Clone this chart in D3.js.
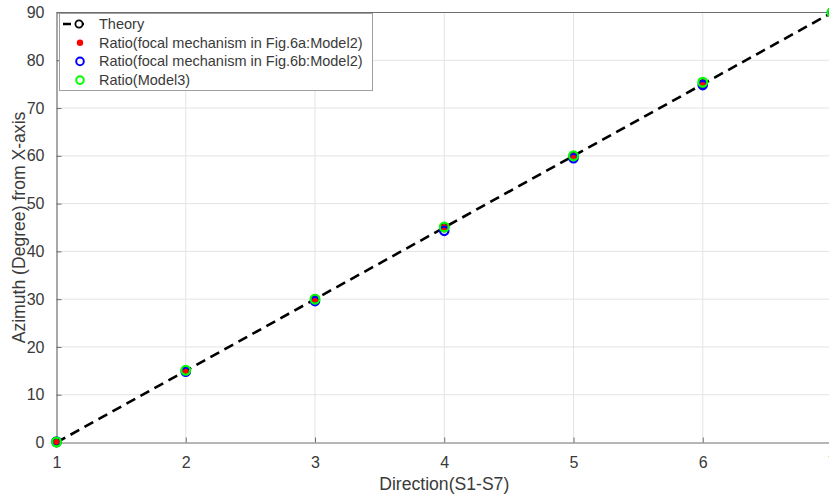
<!DOCTYPE html>
<html>
<head>
<meta charset="utf-8">
<script src="https://cdn.jsdelivr.net/npm/d3@7"></script>
<style>
  html, body { margin: 0; padding: 0; background: #fff; }
  svg { display: block; font-family: "Liberation Sans", Arial, Helvetica, sans-serif; }
</style>
</head>
<body>
<svg id="chart" width="829" height="498"></svg>
<script>
// Direction index S1..S7
const directions = [1, 2, 3, 4, 5, 6, 7];
// Theoretical azimuth (degrees from X-axis)
const theory = [0, 15, 30, 45, 60, 75, 90];
// Ratio estimates
const ratioFig6a = [0, 15, 30, 45, 60, 75, 90];
const ratioFig6b = [0.2, 14.8, 29.6, 44.3, 59.5, 74.8, 90];
const ratioModel3 = [0.1, 15.1, 30.0, 45.1, 60.0, 75.4, 90];

const xTicks = [1, 2, 3, 4, 5, 6, 7];
const yTicks = [0, 10, 20, 30, 40, 50, 60, 70, 80, 90];

const legendLabels = [
  "Theory",
  "Ratio(focal mechanism in Fig.6a:Model2)",
  "Ratio(focal mechanism in Fig.6b:Model2)",
  "Ratio(Model3)"
];

const svg = d3.select("#chart");
const plot = { left: 56.5, right: 832, top: 12.5, bottom: 442.5 };

const x = d3.scaleLinear().domain([1, 7]).range([plot.left, plot.right]);
const y = d3.scaleLinear().domain([0, 90]).range([plot.bottom, plot.top]);

const axisColor = "#6e6e6e";
const textColor = "#3a3a3a";

// grid
const grid = svg.append("g");
grid.selectAll("line.gx").data(xTicks.slice(1)).join("line")
  .attr("x1", d => x(d)).attr("x2", d => x(d))
  .attr("y1", plot.top).attr("y2", plot.bottom)
  .attr("stroke", "#e3e3e3").attr("stroke-width", 1);
grid.selectAll("line.gy").data(yTicks.slice(1)).join("line")
  .attr("x1", plot.left).attr("x2", plot.right)
  .attr("y1", d => y(d)).attr("y2", d => y(d))
  .attr("stroke", "#e3e3e3").attr("stroke-width", 1);

// axes (ticks drawn inward)
const xAxis = d3.axisBottom(x).tickValues(xTicks).tickFormat(d3.format("d"))
  .tickSizeInner(-5).tickSizeOuter(0).tickPadding(14);
const yAxis = d3.axisLeft(y).tickValues(yTicks).tickFormat(d3.format("d"))
  .tickSizeInner(-5).tickSizeOuter(0).tickPadding(12);

const gx = svg.append("g").attr("transform", `translate(0,${plot.bottom})`).call(xAxis);
const gy = svg.append("g").attr("transform", `translate(${plot.left},0)`).call(yAxis);
[gx, gy].forEach(g => {
  g.select(".domain").attr("stroke", axisColor).attr("stroke-width", 1.2);
  g.selectAll(".tick line").attr("stroke", axisColor);
  g.selectAll(".tick text").attr("fill", textColor).attr("font-size", 16)
    .attr("font-family", "Liberation Sans, Arial, sans-serif");
});
// top box edge
svg.append("line")
  .attr("x1", plot.left).attr("x2", plot.right)
  .attr("y1", plot.top).attr("y2", plot.top)
  .attr("stroke", axisColor).attr("stroke-width", 1.2);

// axis titles
svg.append("text")
  .attr("x", (plot.left + plot.right) / 2).attr("y", 490)
  .attr("text-anchor", "middle").attr("font-size", 17.6).attr("fill", textColor)
  .text("Direction(S1-S7)");
svg.append("text")
  .attr("transform", `translate(25,${(plot.top + plot.bottom) / 2}) rotate(-90)`)
  .attr("text-anchor", "middle").attr("font-size", 17.6).attr("fill", textColor)
  .text("Azimuth (Degree) from X-axis");

// data layers
const data = directions.map((d, i) => ({
  x: d, t: theory[i], a: ratioFig6a[i], b: ratioFig6b[i], m: ratioModel3[i]
}));

const line = d3.line().x(d => x(d.x)).y(d => y(d.t));
svg.append("path").datum(data)
  .attr("d", line).attr("fill", "none")
  .attr("stroke", "#000").attr("stroke-width", 2.6)
  .attr("stroke-dasharray", "10,6");
svg.append("g").selectAll("circle").data(data).join("circle")
  .attr("cx", d => x(d.x)).attr("cy", d => y(d.t)).attr("r", 4)
  .attr("fill", "#fff").attr("stroke", "#000").attr("stroke-width", 1.8);

svg.append("g").selectAll("circle").data(data).join("circle")
  .attr("cx", d => x(d.x)).attr("cy", d => y(d.a)).attr("r", 3.2)
  .attr("fill", "#ff0000");
svg.append("g").selectAll("circle").data(data).join("circle")
  .attr("cx", d => x(d.x)).attr("cy", d => y(d.b)).attr("r", 4.2)
  .attr("fill", "none").attr("stroke", "#0000ff").attr("stroke-width", 2.2);
svg.append("g").selectAll("circle").data(data).join("circle")
  .attr("cx", d => x(d.x)).attr("cy", d => y(d.m)).attr("r", 4.4)
  .attr("fill", "none").attr("stroke", "#00ff00").attr("stroke-width", 2.2);

// legend
const lg = svg.append("g");
lg.append("rect").attr("x", 59.5).attr("y", 13.5).attr("width", 313).attr("height", 77)
  .attr("fill", "#fff").attr("stroke", "#a0a0a0").attr("stroke-width", 1);
const rowY = i => 24 + i * 18.7;
lg.append("line").attr("x1", 63).attr("x2", 89).attr("y1", rowY(0)).attr("y2", rowY(0))
  .attr("stroke", "#000").attr("stroke-width", 2.6).attr("stroke-dasharray", "8,5");
lg.append("circle").attr("cx", 79).attr("cy", rowY(0)).attr("r", 3.6)
  .attr("fill", "#fff").attr("stroke", "#000").attr("stroke-width", 1.8);
lg.append("circle").attr("cx", 80).attr("cy", rowY(1)).attr("r", 3.2).attr("fill", "#ff0000");
lg.append("circle").attr("cx", 80).attr("cy", rowY(2)).attr("r", 3.8)
  .attr("fill", "none").attr("stroke", "#0000ff").attr("stroke-width", 2);
lg.append("circle").attr("cx", 80).attr("cy", rowY(3)).attr("r", 3.8)
  .attr("fill", "none").attr("stroke", "#00ff00").attr("stroke-width", 2);
lg.selectAll("text").data(legendLabels).join("text")
  .attr("x", 99).attr("y", (d, i) => rowY(i) + 5)
  .attr("font-size", 14.5).attr("fill", textColor)
  .text(d => d);
</script>
</body>
</html>
